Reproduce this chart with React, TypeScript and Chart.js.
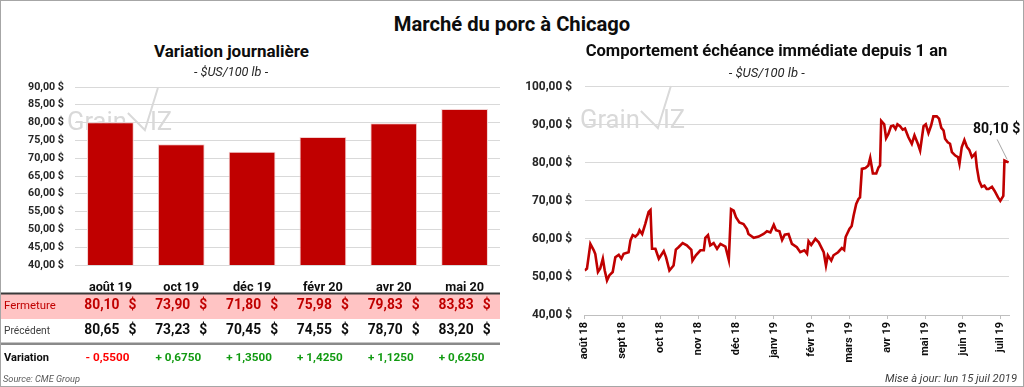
import React, { useEffect, useRef } from "react";
import { Chart, registerables } from "chart.js";

Chart.register(...registerables);

const FONT = "Roboto, 'Open Sans', 'Noto Sans', sans-serif";

// ---- Left panel: daily variation by contract month ----
const contractMonths = ["août 19", "oct 19", "déc 19", "févr 20", "avr 20", "mai 20"];
const closePrices = [80.1, 73.9, 71.8, 75.98, 79.83, 83.83];
const previousPrices = [80.65, 73.23, 70.45, 74.55, 78.7, 83.2];
const dailyChanges = [-0.55, 0.675, 1.35, 1.425, 1.125, 0.625];
const barAxisMin = 40;
const barAxisMax = 90;
const barAxisStep = 5;

// ---- Right panel: nearby contract over one year ----
const historyMonthLabels = [
  "août 18", "sept 18", "oct 18", "nov 18", "déc 18", "janv 19",
  "févr 19", "mars 19", "avr 19", "mai 19", "juin 19", "juil 19",
];
// position in months since 1 août 2018
const historyPos = [
  0.0, 0.06, 0.15, 0.24, 0.28, 0.35, 0.41, 0.48, 0.53, 0.59,
  0.65, 0.74, 0.81, 0.9, 0.97, 1.03, 1.16, 1.21, 1.27, 1.34,
  1.41, 1.45, 1.52, 1.6, 1.69, 1.74, 1.78, 1.87, 1.96, 2.09,
  2.15, 2.24, 2.35, 2.41, 2.48, 2.59, 2.7, 2.82, 2.85, 2.94,
  3.06, 3.15, 3.19, 3.26, 3.32, 3.41, 3.5, 3.59, 3.72, 3.81,
  3.87, 3.94, 4.0, 4.09, 4.2, 4.29, 4.33, 4.47, 4.6, 4.73,
  4.82, 4.91, 5.0, 5.06, 5.15, 5.22, 5.29, 5.39, 5.48, 5.61,
  5.7, 5.81, 5.88, 5.92, 5.99, 6.1, 6.19, 6.32, 6.38, 6.43,
  6.52, 6.58, 6.7, 6.8, 6.86,
  6.9, 7.0, 7.06, 7.11, 7.18, 7.24, 7.28, 7.33, 7.42, 7.5,
  7.55, 7.62, 7.71, 7.77, 7.81, 7.84, 7.92, 7.97, 8.03, 8.1,
  8.16, 8.22, 8.27, 8.34, 8.41,
  8.47, 8.56, 8.65, 8.72, 8.81, 8.87, 8.96, 9.02, 9.09, 9.16,
  9.22, 9.31, 9.37, 9.43, 9.49, 9.53, 9.6, 9.66, 9.71, 9.8,
  9.87, 9.91, 9.97, 10.04, 10.11, 10.17, 10.24, 10.33, 10.37, 10.43,
  10.5, 10.57, 10.63, 10.68, 10.77, 10.84, 10.93, 10.99, 11.07, 11.1,
  11.21,
];
const historyPrice = [
  51.7, 52.2, 58.7, 57.0, 56.0, 51.3, 52.2, 54.8, 51.7, 49.1,
  50.4, 51.3, 55.2, 55.8, 54.8, 56.1, 56.5, 59.6, 61.0, 60.6,
  61.3, 62.3, 61.3, 63.9, 67.1, 67.6, 57.4, 57.4, 54.8, 56.8,
  55.2, 51.7, 53.0, 57.2, 57.8, 58.9, 58.3, 57.1, 54.3, 55.7,
  57.0, 57.0, 60.3, 61.0, 58.3, 58.9, 57.4, 58.7, 58.0, 54.5,
  67.8, 67.4, 65.7, 64.3, 63.9, 62.6, 61.3, 60.3, 60.6, 61.3,
  62.0, 61.7, 63.7, 62.3, 62.0, 59.7, 61.1, 61.3, 58.7, 57.8,
  56.5, 57.0, 56.1, 59.4, 58.4, 60.0, 59.1, 56.5, 53.0, 55.7,
  54.3, 55.7, 56.5, 57.6, 57.1,
  60.5, 62.6, 63.4, 66.1, 69.2, 70.5, 70.9, 78.4, 78.6, 79.3,
  81.3, 77.2, 77.2, 78.8, 79.3, 91.0, 90.1, 86.5, 87.6, 89.6,
  89.8, 88.9, 90.1, 89.6, 88.7,
  89.0, 86.7, 85.0, 87.2, 85.0, 83.2, 89.6, 90.1, 87.8, 89.8,
  92.2, 92.2, 91.6, 89.2, 88.5, 86.3, 85.4, 85.0, 82.8, 81.9,
  81.5, 79.7, 84.1, 86.0, 84.1, 83.4, 81.5, 82.5, 78.8, 75.3,
  73.7, 74.0, 73.1, 73.1, 73.7, 72.6, 70.9, 70.0, 71.3, 80.6,
  80.1,
];
const historyAxisMin = 40;
const historyAxisMax = 100;
const historyAxisStep = 10;
const historyAxisEnd = 11.22;

const fmtNum = (v: number) => v.toFixed(2).replace(".", ",");
const fmtPrice = (v: number) => fmtNum(v) + " $";
const fmtChange = (v: number) => (v < 0 ? "- " : "+ ") + Math.abs(v).toFixed(4).replace(".", ",");

// font size that makes a sample text reach a target width (so the installed font matches the reference's text widths)
let measureCtx: CanvasRenderingContext2D | null = null;
function fitSize(text: string, target: number, weight = "normal", style = "normal") {
  if (!measureCtx) measureCtx = document.createElement("canvas").getContext("2d");
  const ctx = measureCtx!;
  ctx.font = `${style} ${weight} 100px ${FONT}`;
  const w = ctx.measureText(text).width || 1;
  return Math.round((1000 * target) / w) / 10;
}

const S: Record<string, number> = {};

function drawWatermark(ctx: CanvasRenderingContext2D, x: number, baseline: number) {
  ctx.save();
  ctx.fillStyle = "#d9d9d9";
  ctx.strokeStyle = "#d9d9d9";
  ctx.font = `${S.mark}px ${FONT}`;
  ctx.textAlign = "left";
  ctx.textBaseline = "alphabetic";
  ctx.fillText("Grain", x, baseline);
  const w = ctx.measureText("Grain").width;
  ctx.lineWidth = 2;
  ctx.beginPath();
  ctx.moveTo(x + w + 1, baseline - 17);
  ctx.lineTo(x + w + 18, baseline);
  ctx.lineTo(x + w + 31, baseline - 42);
  ctx.stroke();
  ctx.fillText("IZ", x + w + 23, baseline);
  ctx.restore();
}

const LEFT_TOP = 80;
const RIGHT_TOP = 80;

const tablePlugin = {
  id: "tablePlugin",
  beforeDatasetsDraw(chart: any) {
    drawWatermark(chart.ctx, 67, 130 - LEFT_TOP);
  },
  afterDraw(chart: any) {
    const ctx: CanvasRenderingContext2D = chart.ctx;
    const xs = chart.scales.x;
    const off = LEFT_TOP;
    const right = 500;
    ctx.save();
    ctx.fillStyle = "#ffc4c4";
    ctx.fillRect(0, 294 - off, right, 25);
    ctx.fillStyle = "#3a3a3a";
    ctx.fillRect(0, 292.5 - off, right, 2);
    ctx.fillStyle = "#8a8a8a";
    ctx.fillRect(0, 342.5 - off, right, 2.5);

    const yF = 306 - off;
    const yP = 331 - off;
    const yV = 358 - off;
    ctx.textBaseline = "middle";
    ctx.textAlign = "left";
    ctx.font = `${S.ferm}px ${FONT}`;
    ctx.fillStyle = "#c00000";
    ctx.fillText("Fermeture", 4, yF);
    ctx.font = `${S.prec}px ${FONT}`;
    ctx.fillStyle = "#404040";
    ctx.fillText("Précédent", 4, yP);
    ctx.font = `bold ${S.vari}px ${FONT}`;
    ctx.fillStyle = "#0d0d0d";
    ctx.fillText("Variation", 4, yV);

    contractMonths.forEach((_, i) => {
      const c = xs.getPixelForValue(i);
      ctx.font = `bold ${S.val}px ${FONT}`;
      ctx.textAlign = "right";
      ctx.fillStyle = "#c00000";
      ctx.fillText(fmtNum(closePrices[i]), c + 9, yF);
      ctx.fillText("$", c + 26, yF);
      ctx.fillStyle = "#0d0d0d";
      ctx.fillText(fmtNum(previousPrices[i]), c + 9, yP);
      ctx.fillText("$", c + 26, yP);
      ctx.font = `bold ${S.chg}px ${FONT}`;
      ctx.textAlign = "center";
      ctx.fillStyle = dailyChanges[i] < 0 ? "#ff0000" : "#119a11";
      ctx.fillText(fmtChange(dailyChanges[i]), c - 3, yV);
    });
    ctx.restore();
  },
};

const linePlugin = {
  id: "linePlugin",
  beforeDatasetsDraw(chart: any) {
    drawWatermark(chart.ctx, 580 - 512, 128 - RIGHT_TOP);
  },
  afterDraw(chart: any) {
    const ctx: CanvasRenderingContext2D = chart.ctx;
    const meta = chart.getDatasetMeta(0);
    const pt = meta.data[meta.data.length - 1];
    if (!pt) return;
    ctx.save();
    ctx.strokeStyle = "#a6a6a6";
    ctx.lineWidth = 1;
    ctx.beginPath();
    ctx.moveTo(pt.x - 11.5, pt.y - 23);
    ctx.lineTo(pt.x - 1.5, pt.y - 3);
    ctx.stroke();
    ctx.font = `bold ${S.last}px ${FONT}`;
    ctx.fillStyle = "#0d0d0d";
    ctx.textAlign = "center";
    ctx.textBaseline = "middle";
    ctx.fillText(fmtPrice(historyPrice[historyPrice.length - 1]), pt.x - 12, pt.y - 33);
    ctx.restore();
  },
};

function Txt(props: {
  cx?: number; left?: number; right?: number; cy: number; width: number;
  bold?: boolean; italic?: boolean; color?: string; children: string;
}) {
  const { cx, left, right, cy, width, bold, italic, color, children } = props;
  const size = fitSize(children, width, bold ? "bold" : "normal", italic ? "italic" : "normal");
  const style: React.CSSProperties = {
    position: "absolute",
    top: cy - 15,
    height: 30,
    lineHeight: "30px",
    fontSize: size,
    fontWeight: bold ? 700 : 400,
    fontStyle: italic ? "italic" : "normal",
    color: color || "#0d0d0d",
    whiteSpace: "nowrap",
    fontFamily: FONT,
  };
  if (cx !== undefined) {
    style.left = cx - 400;
    style.width = 800;
    style.textAlign = "center";
  } else if (right !== undefined) {
    style.left = right - 400;
    style.width = 400;
    style.textAlign = "right";
  } else {
    style.left = left;
  }
  return <div style={style}>{children}</div>;
}

export default function App() {
  const leftRef = useRef<HTMLCanvasElement>(null);
  const rightRef = useRef<HTMLCanvasElement>(null);

  useEffect(() => {
    Chart.defaults.font.family = FONT;
    S.leftY = fitSize("90,00 $", 36, "bold");
    S.rightY = fitSize("100,00 $", 47, "bold");
    S.leftX = fitSize("août 19", 43, "bold");
    S.rightX = fitSize("août 18", 37.5, "bold");
    S.val = fitSize("80,10", 35, "bold");
    S.ferm = fitSize("Fermeture", 52);
    S.prec = fitSize("Précédent", 46);
    S.vari = fitSize("Variation", 45, "bold");
    S.chg = fitSize("- 0,5500", 44, "bold");
    S.last = fitSize("80,10 $", 47, "bold");
    S.mark = fitSize("Grain", 60);

    const left = new Chart(leftRef.current!, {
      type: "bar",
      data: {
        labels: contractMonths,
        datasets: [
          {
            data: closePrices,
            backgroundColor: "#c00000",
            borderColor: "#f3d0d0",
            borderWidth: 1,
            barPercentage: 0.66,
            categoryPercentage: 1,
          },
        ],
      },
      options: {
        responsive: false,
        animation: false,
        layout: { padding: { top: 0, right: 12, left: 0, bottom: 0 } },
        plugins: { legend: { display: false }, tooltip: { enabled: false } },
        scales: {
          x: {
            grid: { display: false, drawTicks: false },
            border: { display: false },
            ticks: { padding: 15, color: "#0d0d0d", font: { size: S.leftX, weight: "bold" } },
            afterFit: (s: any) => { s.height = 122; },
          },
          y: {
            min: barAxisMin,
            max: barAxisMax,
            ticks: { stepSize: barAxisStep, padding: 11, color: "#262626", font: { size: S.leftY, weight: "bold" }, callback: (v: any) => fmtPrice(Number(v)) },
            grid: { color: "#d9d9d9", drawTicks: false },
            border: { display: false },
            afterFit: (s: any) => { s.width = 75; s.paddingTop = 7; s.paddingBottom = 0; },
          },
        },
      } as any,
      plugins: [tablePlugin],
    });

    const right = new Chart(rightRef.current!, {
      type: "line",
      data: {
        datasets: [
          {
            data: historyPos.map((x, i) => ({ x, y: historyPrice[i] })),
            borderColor: "#c00000",
            borderWidth: 2.6,
            pointRadius: 0,
            tension: 0,
            fill: false,
          },
        ],
      },
      options: {
        responsive: false,
        animation: false,
        layout: { padding: { top: 0, right: 15, left: 0, bottom: 0 } },
        plugins: { legend: { display: false }, tooltip: { enabled: false } },
        scales: {
          x: {
            type: "linear",
            min: 0,
            max: historyAxisEnd,
            afterBuildTicks: (s: any) => {
              s.ticks = historyMonthLabels.map((_, i) => ({ value: i }));
            },
            ticks: {
              autoSkip: false,
              minRotation: 90,
              maxRotation: 90,
              padding: 3,
              color: "#0d0d0d",
              font: { size: S.rightX, weight: "bold" },
              callback: (_v: any, i: number) => historyMonthLabels[i],
            },
            grid: { drawOnChartArea: false, drawTicks: true, tickLength: 4, color: "#bfbfbf" },
            border: { display: true, color: "#bfbfbf" },
            afterFit: (s: any) => { s.height = 72; s.paddingLeft = 0; s.paddingRight = 0; },
          },
          y: {
            min: historyAxisMin,
            max: historyAxisMax,
            ticks: { stepSize: historyAxisStep, padding: 12.7, color: "#262626", font: { size: S.rightY, weight: "bold" }, callback: (v: any) => fmtPrice(Number(v)) },
            grid: { color: "#d9d9d9", drawTicks: false },
            border: { display: false },
            afterFit: (s: any) => { s.width = 72.7; s.paddingTop = 6.7; s.paddingBottom = 0; },
          },
        },
      } as any,
      plugins: [linePlugin],
    });

    return () => {
      left.destroy();
      right.destroy();
    };
  }, []);

  return (
    <div style={{ position: "fixed", left: 0, top: 0, width: 1024, height: 387, background: "#fff", overflow: "hidden", fontFamily: FONT }}>
      <canvas ref={leftRef} width={512} height={307} style={{ position: "absolute", left: 0, top: LEFT_TOP, width: 512, height: 307 }} />
      <canvas ref={rightRef} width={512} height={307} style={{ position: "absolute", left: 512, top: RIGHT_TOP, width: 512, height: 307 }} />

      <Txt cx={512} cy={24} width={237} bold>Marché du porc à Chicago</Txt>
      <Txt cx={231.5} cy={51} width={155} bold>Variation journalière</Txt>
      <Txt cx={231} cy={72} width={74} italic color="#262626">- $US/100 lb -</Txt>
      <Txt cx={766.5} cy={51} width={361} bold>Comportement échéance immédiate depuis 1 an</Txt>
      <Txt cx={766.7} cy={73} width={76} italic color="#262626">- $US/100 lb -</Txt>
      <Txt left={3} cy={379} width={77} italic color="#595959">Source: CME Group</Txt>
      <Txt right={1017} cy={379} width={132} italic color="#404040">Mise à jour: lun 15 juil 2019</Txt>

      <div style={{ position: "absolute", left: 0, top: 0, width: 1024, height: 387, boxSizing: "border-box", border: "1px solid #a6a6a6", pointerEvents: "none" }} />
    </div>
  );
}
